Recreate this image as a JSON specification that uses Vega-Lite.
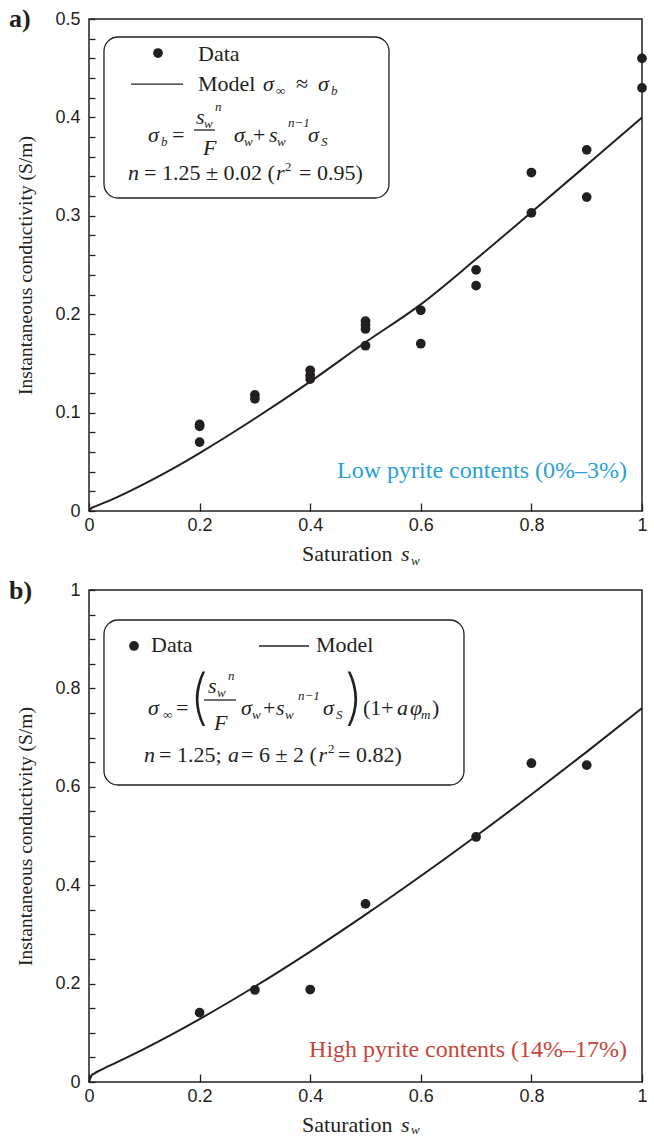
{
  "$schema": "https://vega.github.io/schema/vega-lite/v6.json",
  "background": "white",
  "padding": {"left": 8, "top": 5, "right": 0, "bottom": 0},
  "spacing": 79,
  "bounds": "flush",
  "datasets": {
    "pa": [
      {"x": 0.2, "y": 0.088}, {"x": 0.2, "y": 0.086}, {"x": 0.2, "y": 0.070},
      {"x": 0.3, "y": 0.118}, {"x": 0.3, "y": 0.114},
      {"x": 0.4, "y": 0.143}, {"x": 0.4, "y": 0.138}, {"x": 0.4, "y": 0.134},
      {"x": 0.5, "y": 0.193}, {"x": 0.5, "y": 0.189}, {"x": 0.5, "y": 0.185}, {"x": 0.5, "y": 0.168},
      {"x": 0.6, "y": 0.204}, {"x": 0.6, "y": 0.170},
      {"x": 0.7, "y": 0.245}, {"x": 0.7, "y": 0.229},
      {"x": 0.8, "y": 0.344}, {"x": 0.8, "y": 0.303},
      {"x": 0.9, "y": 0.367}, {"x": 0.9, "y": 0.319},
      {"x": 1.0, "y": 0.460}, {"x": 1.0, "y": 0.430}
    ],
    "ma": [
      {"x": 0, "y": 0}, {"x": 0.005, "y": 0.0032}, {"x": 0.01, "y": 0.0044}, {"x": 0.02, "y": 0.0067},
      {"x": 0.05, "y": 0.0139}, {"x": 0.1, "y": 0.0276}, {"x": 0.15, "y": 0.0426}, {"x": 0.2, "y": 0.0589},
      {"x": 0.3, "y": 0.0940}, {"x": 0.4, "y": 0.1315}, {"x": 0.5, "y": 0.1715}, {"x": 0.6, "y": 0.2100},
      {"x": 0.7, "y": 0.2560}, {"x": 0.8, "y": 0.3035}, {"x": 0.9, "y": 0.3516}, {"x": 1.0, "y": 0.4000}
    ],
    "pb": [
      {"x": 0.2, "y": 0.141}, {"x": 0.3, "y": 0.187}, {"x": 0.4, "y": 0.188}, {"x": 0.5, "y": 0.362},
      {"x": 0.7, "y": 0.498}, {"x": 0.8, "y": 0.648}, {"x": 0.9, "y": 0.644}
    ],
    "mb": [
      {"x": 0, "y": 0}, {"x": 0.005, "y": 0.0140}, {"x": 0.01, "y": 0.0177}, {"x": 0.02, "y": 0.0238},
      {"x": 0.05, "y": 0.0400}, {"x": 0.1, "y": 0.0675}, {"x": 0.15, "y": 0.0969}, {"x": 0.2, "y": 0.1279},
      {"x": 0.3, "y": 0.1941}, {"x": 0.4, "y": 0.2651}, {"x": 0.5, "y": 0.3401}, {"x": 0.6, "y": 0.4186},
      {"x": 0.7, "y": 0.5001}, {"x": 0.8, "y": 0.5843}, {"x": 0.9, "y": 0.6710}, {"x": 1.0, "y": 0.7600}
    ],
    "tk": [
      {"p": "a", "o": "x", "v": 0.2}, {"p": "a", "o": "x", "v": 0.4}, {"p": "a", "o": "x", "v": 0.6}, {"p": "a", "o": "x", "v": 0.8},
      {"p": "a", "o": "y", "v": 0.02}, {"p": "a", "o": "y", "v": 0.04}, {"p": "a", "o": "y", "v": 0.06}, {"p": "a", "o": "y", "v": 0.08},
      {"p": "a", "o": "y", "v": 0.10}, {"p": "a", "o": "y", "v": 0.12}, {"p": "a", "o": "y", "v": 0.14}, {"p": "a", "o": "y", "v": 0.16},
      {"p": "a", "o": "y", "v": 0.18}, {"p": "a", "o": "y", "v": 0.20}, {"p": "a", "o": "y", "v": 0.22}, {"p": "a", "o": "y", "v": 0.24},
      {"p": "a", "o": "y", "v": 0.26}, {"p": "a", "o": "y", "v": 0.28}, {"p": "a", "o": "y", "v": 0.30}, {"p": "a", "o": "y", "v": 0.32},
      {"p": "a", "o": "y", "v": 0.34}, {"p": "a", "o": "y", "v": 0.36}, {"p": "a", "o": "y", "v": 0.38}, {"p": "a", "o": "y", "v": 0.40},
      {"p": "a", "o": "y", "v": 0.42}, {"p": "a", "o": "y", "v": 0.44}, {"p": "a", "o": "y", "v": 0.46}, {"p": "a", "o": "y", "v": 0.48},
      {"p": "b", "o": "x", "v": 0.2}, {"p": "b", "o": "x", "v": 0.4}, {"p": "b", "o": "x", "v": 0.6}, {"p": "b", "o": "x", "v": 0.8},
      {"p": "b", "o": "y", "v": 0.05}, {"p": "b", "o": "y", "v": 0.10}, {"p": "b", "o": "y", "v": 0.15}, {"p": "b", "o": "y", "v": 0.20},
      {"p": "b", "o": "y", "v": 0.25}, {"p": "b", "o": "y", "v": 0.30}, {"p": "b", "o": "y", "v": 0.35}, {"p": "b", "o": "y", "v": 0.40},
      {"p": "b", "o": "y", "v": 0.45}, {"p": "b", "o": "y", "v": 0.50}, {"p": "b", "o": "y", "v": 0.55}, {"p": "b", "o": "y", "v": 0.60},
      {"p": "b", "o": "y", "v": 0.65}, {"p": "b", "o": "y", "v": 0.70}, {"p": "b", "o": "y", "v": 0.75}, {"p": "b", "o": "y", "v": 0.80},
      {"p": "b", "o": "y", "v": 0.85}, {"p": "b", "o": "y", "v": 0.90}, {"p": "b", "o": "y", "v": 0.95}
    ],
    "box": [
      {"p": "a", "x": 0.0271, "x2": 0.5425, "y": 0.4817, "y2": 0.3181},
      {"p": "b", "x": 0.0271, "x2": 0.6781, "y": 0.9390, "y2": 0.6037}
    ],
    "seg": [
      {"p": "a", "x": 0.0759, "x2": 0.1700, "y": 0.4339},
      {"p": "a", "x": 0.1899, "x2": 0.2278, "y": 0.3872},
      {"p": "b", "x": 0.3074, "x2": 0.3978, "y": 0.8862},
      {"p": "b", "x": 0.2080, "x2": 0.2658, "y": 0.7764}
    ],
    "dot": [
      {"p": "a", "x": 0.1248, "y": 0.4654},
      {"p": "b", "x": 0.0814, "y": 0.8862}
    ],
    "txt": [
      {"p": "a", "k": "up", "x": 0.1971, "y": 0.4573, "t": "Data"},
      {"p": "a", "k": "up", "x": 0.1971, "y": 0.4268, "t": "Model"},
      {"p": "a", "k": "up", "x": 0.3743, "y": 0.4268, "t": "≈"},
      {"p": "a", "k": "up", "x": 0.1501, "y": 0.3750, "t": "="},
      {"p": "a", "k": "up", "x": 0.2966, "y": 0.3750, "t": "+"},
      {"p": "a", "k": "up", "x": 0.0995, "y": 0.3364, "t": "= 1.25 ± 0.02 ("},
      {"p": "a", "k": "up", "x": 0.3797, "y": 0.3364, "t": "= 0.95)"},
      {"p": "a", "k": "up", "x": 0.3852, "y": -0.0508, "t": "Saturation"},
      {"p": "a", "k": "it", "x": 0.3146, "y": 0.4268, "t": "σ"},
      {"p": "a", "k": "it", "x": 0.4141, "y": 0.4268, "t": "σ"},
      {"p": "a", "k": "it", "x": 0.1067, "y": 0.3750, "t": "σ"},
      {"p": "a", "k": "it", "x": 0.1935, "y": 0.3933, "t": "s"},
      {"p": "a", "k": "it", "x": 0.2061, "y": 0.3618, "t": "F"},
      {"p": "a", "k": "it", "x": 0.2622, "y": 0.3750, "t": "σ"},
      {"p": "a", "k": "it", "x": 0.3255, "y": 0.3750, "t": "s"},
      {"p": "a", "k": "it", "x": 0.3960, "y": 0.3750, "t": "σ"},
      {"p": "a", "k": "it", "x": 0.0705, "y": 0.3364, "t": "n"},
      {"p": "a", "k": "it", "x": 0.3382, "y": 0.3364, "t": "r"},
      {"p": "a", "k": "it", "x": 0.5642, "y": -0.0508, "t": "s"},
      {"p": "a", "k": "subi", "x": 0.3382, "y": 0.4228, "t": "∞"},
      {"p": "a", "k": "subi", "x": 0.4376, "y": 0.4228, "t": "b"},
      {"p": "a", "k": "subi", "x": 0.1302, "y": 0.3709, "t": "b"},
      {"p": "a", "k": "subi", "x": 0.2080, "y": 0.3892, "t": "w"},
      {"p": "a", "k": "subi", "x": 0.2278, "y": 0.4065, "t": "n"},
      {"p": "a", "k": "subi", "x": 0.2803, "y": 0.3709, "t": "w"},
      {"p": "a", "k": "subi", "x": 0.3399, "y": 0.3709, "t": "w"},
      {"p": "a", "k": "subi", "x": 0.3599, "y": 0.3902, "t": "n−1"},
      {"p": "a", "k": "subi", "x": 0.4195, "y": 0.3709, "t": "S"},
      {"p": "a", "k": "subi", "x": 0.5823, "y": -0.0549, "t": "w"},
      {"p": "a", "k": "subu", "x": 0.3544, "y": 0.3455, "t": "2"},
      {"p": "a", "k": "lab", "x": -0.1447, "y": 0.4919, "t": "a)"},
      {"p": "a", "k": "note", "x": 0.9729, "y": 0.0335, "t": "Low pyrite contents (0%–3%)"},
      {"p": "b", "k": "up", "x": 0.1121, "y": 0.8740, "t": "Data"},
      {"p": "b", "k": "up", "x": 0.4105, "y": 0.8740, "t": "Model"},
      {"p": "b", "k": "up", "x": 0.1573, "y": 0.7459, "t": "="},
      {"p": "b", "k": "up", "x": 0.3146, "y": 0.7459, "t": "+"},
      {"p": "b", "k": "up", "x": 0.4955, "y": 0.7459, "t": "(1+"},
      {"p": "b", "k": "up", "x": 0.6203, "y": 0.7459, "t": ")"},
      {"p": "b", "k": "up", "x": 0.1266, "y": 0.6504, "t": "= 1.25;"},
      {"p": "b", "k": "up", "x": 0.2749, "y": 0.6504, "t": "= 6 ± 2 ("},
      {"p": "b", "k": "up", "x": 0.4503, "y": 0.6504, "t": "= 0.82)"},
      {"p": "b", "k": "up", "x": 0.3852, "y": -0.1016, "t": "Saturation"},
      {"p": "b", "k": "it", "x": 0.1067, "y": 0.7459, "t": "σ"},
      {"p": "b", "k": "it", "x": 0.2152, "y": 0.7907, "t": "s"},
      {"p": "b", "k": "it", "x": 0.2260, "y": 0.7154, "t": "F"},
      {"p": "b", "k": "it", "x": 0.2749, "y": 0.7459, "t": "σ"},
      {"p": "b", "k": "it", "x": 0.3382, "y": 0.7459, "t": "s"},
      {"p": "b", "k": "it", "x": 0.4231, "y": 0.7459, "t": "σ"},
      {"p": "b", "k": "it", "x": 0.5570, "y": 0.7459, "t": "a"},
      {"p": "b", "k": "it", "x": 0.5805, "y": 0.7459, "t": "φ"},
      {"p": "b", "k": "it", "x": 0.0995, "y": 0.6504, "t": "n"},
      {"p": "b", "k": "it", "x": 0.2514, "y": 0.6504, "t": "a"},
      {"p": "b", "k": "it", "x": 0.4150, "y": 0.6504, "t": "r"},
      {"p": "b", "k": "it", "x": 0.5642, "y": -0.1016, "t": "s"},
      {"p": "b", "k": "subi", "x": 0.1338, "y": 0.7378, "t": "∞"},
      {"p": "b", "k": "subi", "x": 0.2315, "y": 0.7825, "t": "w"},
      {"p": "b", "k": "subi", "x": 0.2514, "y": 0.8171, "t": "n"},
      {"p": "b", "k": "subi", "x": 0.2948, "y": 0.7378, "t": "w"},
      {"p": "b", "k": "subi", "x": 0.3544, "y": 0.7378, "t": "w"},
      {"p": "b", "k": "subi", "x": 0.3779, "y": 0.7764, "t": "n−1"},
      {"p": "b", "k": "subi", "x": 0.4467, "y": 0.7378, "t": "S"},
      {"p": "b", "k": "subi", "x": 0.6004, "y": 0.7378, "t": "m"},
      {"p": "b", "k": "subi", "x": 0.5823, "y": -0.1057, "t": "w"},
      {"p": "b", "k": "subu", "x": 0.4322, "y": 0.6687, "t": "2"},
      {"p": "b", "k": "par", "x": 0.1808, "y": 0.7398, "t": "("},
      {"p": "b", "k": "par", "x": 0.4611, "y": 0.7398, "t": ")"},
      {"p": "b", "k": "lab", "x": -0.1447, "y": 0.9817, "t": "b)"},
      {"p": "b", "k": "note", "x": 0.9729, "y": 0.0508, "t": "High pyrite contents (14%–17%)"}
    ]
  },
  "config": {
    "view": {"stroke": "#231f20", "strokeWidth": 1.5},
    "axis": {
      "domain": false, "grid": false,
      "labelFont": "Liberation Sans", "labelFontSize": 18, "labelColor": "#231f20",
      "titleFont": "Liberation Serif", "titleFontSize": 19.5, "titleFontWeight": "normal", "titleColor": "#231f20",
      "tickColor": "#231f20", "tickWidth": 1.3,
      "labelFlush": false, "labelOverlap": false
    }
  },
  "vconcat": [
    {
      "width": 553, "height": 492,
      "encoding": {
        "x": {"field": "x", "type": "quantitative", "scale": {"domain": [0, 1], "nice": false, "zero": false}, "axis": null},
        "y": {"field": "y", "type": "quantitative", "scale": {"domain": [0, 0.5], "nice": false, "zero": false}, "axis": null}
      },
      "resolve": {"axis": {"x": "independent", "y": "independent"}},
      "layer": [
        {
          "data": {"name": "ma"},
          "mark": {"type": "line", "color": "#231f20", "strokeWidth": 2, "interpolate": "monotone"},
          "encoding": {
            "x": {"field": "x", "type": "quantitative", "scale": {"domain": [0, 1], "nice": false, "zero": false},
              "axis": {"orient": "bottom", "values": [0, 0.2, 0.4, 0.6, 0.8, 1], "format": ".1~f", "offset": -8, "tickSize": 8, "labelPadding": 5, "title": null}},
            "y": {"field": "y", "type": "quantitative", "scale": {"domain": [0, 0.5], "nice": false, "zero": false},
              "axis": {"orient": "left", "offset": -6, "tickSize": 6, "labelPadding": 9, "title": "Instantaneous conductivity (S/m)", "titlePadding": 19,
                "values": [0, 0.02, 0.04, 0.06, 0.08, 0.1, 0.12, 0.14, 0.16, 0.18, 0.2, 0.22, 0.24, 0.26, 0.28, 0.3, 0.32, 0.34, 0.36, 0.38, 0.4, 0.42, 0.44, 0.46, 0.48, 0.5],
                "labelExpr": "abs(datum.value*10-round(datum.value*10))<1e-6 ? format(datum.value,'.1~f') : ''"}}
          }
        },
        {
          "data": {"name": "tk"}, "transform": [{"filter": "datum.p=='a' && datum.o=='x'"}],
          "mark": {"type": "rule", "color": "#231f20", "strokeWidth": 1.3},
          "encoding": {"x": {"field": "v", "type": "quantitative", "axis": null}, "y": {"datum": 0, "axis": null}, "y2": {"datum": 0.00813}}
        },
        {
          "data": {"name": "tk"}, "transform": [{"filter": "datum.p=='a' && datum.o=='x'"}],
          "mark": {"type": "rule", "color": "#231f20", "strokeWidth": 1.3},
          "encoding": {"x": {"field": "v", "type": "quantitative", "axis": null}, "y": {"datum": 0.5, "axis": null}, "y2": {"datum": 0.49187}}
        },
        {
          "data": {"name": "tk"}, "transform": [{"filter": "datum.p=='a' && datum.o=='y'"}],
          "mark": {"type": "rule", "color": "#231f20", "strokeWidth": 1.3},
          "encoding": {"x": {"datum": 0, "axis": null}, "x2": {"datum": 0.01085}, "y": {"field": "v", "type": "quantitative", "axis": null}}
        },
        {
          "data": {"name": "tk"}, "transform": [{"filter": "datum.p=='a' && datum.o=='y'"}],
          "mark": {"type": "rule", "color": "#231f20", "strokeWidth": 1.3},
          "encoding": {"x": {"datum": 1, "axis": null}, "x2": {"datum": 0.98915}, "y": {"field": "v", "type": "quantitative", "axis": null}}
        },
        {
          "data": {"name": "pa"},
          "mark": {"type": "point", "filled": true, "size": 95, "color": "#231f20", "opacity": 1}
        },
        {
          "data": {"name": "box"}, "transform": [{"filter": "datum.p=='a'"}],
          "mark": {"type": "rect", "fill": "white", "stroke": "#231f20", "strokeWidth": 1.3, "cornerRadius": 14},
          "encoding": {"x2": {"field": "x2"}, "y2": {"field": "y2"}}
        },
        {
          "data": {"name": "seg"}, "transform": [{"filter": "datum.p=='a'"}],
          "mark": {"type": "rule", "color": "#231f20", "strokeWidth": 1.3},
          "encoding": {"x2": {"field": "x2"}}
        },
        {
          "data": {"name": "dot"}, "transform": [{"filter": "datum.p=='a'"}],
          "mark": {"type": "point", "filled": true, "size": 95, "color": "#231f20", "opacity": 1}
        },
        {
          "data": {"name": "txt"}, "transform": [{"filter": "datum.p=='a' && datum.k=='up'"}],
          "mark": {"type": "text", "font": "Liberation Serif", "fontSize": 22, "align": "left", "baseline": "alphabetic", "color": "#231f20"},
          "encoding": {"text": {"field": "t"}}
        },
        {
          "data": {"name": "txt"}, "transform": [{"filter": "datum.p=='a' && datum.k=='it'"}],
          "mark": {"type": "text", "font": "Liberation Serif", "fontSize": 22, "fontStyle": "italic", "align": "left", "baseline": "alphabetic", "color": "#231f20"},
          "encoding": {"text": {"field": "t"}}
        },
        {
          "data": {"name": "txt"}, "transform": [{"filter": "datum.p=='a' && datum.k=='subi'"}],
          "mark": {"type": "text", "font": "Liberation Serif", "fontSize": 13, "fontStyle": "italic", "align": "left", "baseline": "alphabetic", "color": "#231f20"},
          "encoding": {"text": {"field": "t"}}
        },
        {
          "data": {"name": "txt"}, "transform": [{"filter": "datum.p=='a' && datum.k=='subu'"}],
          "mark": {"type": "text", "font": "Liberation Serif", "fontSize": 13, "align": "left", "baseline": "alphabetic", "color": "#231f20"},
          "encoding": {"text": {"field": "t"}}
        },
        {
          "data": {"name": "txt"}, "transform": [{"filter": "datum.p=='a' && datum.k=='lab'"}],
          "mark": {"type": "text", "font": "Liberation Serif", "fontSize": 26, "fontWeight": "bold", "align": "left", "baseline": "alphabetic", "color": "#231f20"},
          "encoding": {"text": {"field": "t"}}
        },
        {
          "data": {"name": "txt"}, "transform": [{"filter": "datum.p=='a' && datum.k=='note'"}],
          "mark": {"type": "text", "font": "Liberation Serif", "fontSize": 24, "align": "right", "baseline": "alphabetic", "color": "#2a9fd8"},
          "encoding": {"text": {"field": "t"}}
        }
      ]
    },
    {
      "width": 553, "height": 492,
      "encoding": {
        "x": {"field": "x", "type": "quantitative", "scale": {"domain": [0, 1], "nice": false, "zero": false}, "axis": null},
        "y": {"field": "y", "type": "quantitative", "scale": {"domain": [0, 1], "nice": false, "zero": false}, "axis": null}
      },
      "resolve": {"axis": {"x": "independent", "y": "independent"}},
      "layer": [
        {
          "data": {"name": "mb"},
          "mark": {"type": "line", "color": "#231f20", "strokeWidth": 2, "interpolate": "monotone"},
          "encoding": {
            "x": {"field": "x", "type": "quantitative", "scale": {"domain": [0, 1], "nice": false, "zero": false},
              "axis": {"orient": "bottom", "values": [0, 0.2, 0.4, 0.6, 0.8, 1], "format": ".1~f", "offset": -8, "tickSize": 8, "labelPadding": 5, "title": null}},
            "y": {"field": "y", "type": "quantitative", "scale": {"domain": [0, 1], "nice": false, "zero": false},
              "axis": {"orient": "left", "offset": -6, "tickSize": 6, "labelPadding": 9, "title": "Instantaneous conductivity (S/m)", "titlePadding": 19,
                "values": [0, 0.05, 0.1, 0.15, 0.2, 0.25, 0.3, 0.35, 0.4, 0.45, 0.5, 0.55, 0.6, 0.65, 0.7, 0.75, 0.8, 0.85, 0.9, 0.95, 1],
                "labelExpr": "abs(datum.value*5-round(datum.value*5))<1e-6 ? format(datum.value,'.1~f') : ''"}}
          }
        },
        {
          "data": {"name": "tk"}, "transform": [{"filter": "datum.p=='b' && datum.o=='x'"}],
          "mark": {"type": "rule", "color": "#231f20", "strokeWidth": 1.3},
          "encoding": {"x": {"field": "v", "type": "quantitative", "axis": null}, "y": {"datum": 0, "axis": null}, "y2": {"datum": 0.01626}}
        },
        {
          "data": {"name": "tk"}, "transform": [{"filter": "datum.p=='b' && datum.o=='x'"}],
          "mark": {"type": "rule", "color": "#231f20", "strokeWidth": 1.3},
          "encoding": {"x": {"field": "v", "type": "quantitative", "axis": null}, "y": {"datum": 1, "axis": null}, "y2": {"datum": 0.98374}}
        },
        {
          "data": {"name": "tk"}, "transform": [{"filter": "datum.p=='b' && datum.o=='y'"}],
          "mark": {"type": "rule", "color": "#231f20", "strokeWidth": 1.3},
          "encoding": {"x": {"datum": 0, "axis": null}, "x2": {"datum": 0.01085}, "y": {"field": "v", "type": "quantitative", "axis": null}}
        },
        {
          "data": {"name": "tk"}, "transform": [{"filter": "datum.p=='b' && datum.o=='y'"}],
          "mark": {"type": "rule", "color": "#231f20", "strokeWidth": 1.3},
          "encoding": {"x": {"datum": 1, "axis": null}, "x2": {"datum": 0.98915}, "y": {"field": "v", "type": "quantitative", "axis": null}}
        },
        {
          "data": {"name": "pb"},
          "mark": {"type": "point", "filled": true, "size": 95, "color": "#231f20", "opacity": 1}
        },
        {
          "data": {"name": "box"}, "transform": [{"filter": "datum.p=='b'"}],
          "mark": {"type": "rect", "fill": "white", "stroke": "#231f20", "strokeWidth": 1.3, "cornerRadius": 14},
          "encoding": {"x2": {"field": "x2"}, "y2": {"field": "y2"}}
        },
        {
          "data": {"name": "seg"}, "transform": [{"filter": "datum.p=='b'"}],
          "mark": {"type": "rule", "color": "#231f20", "strokeWidth": 1.3},
          "encoding": {"x2": {"field": "x2"}}
        },
        {
          "data": {"name": "dot"}, "transform": [{"filter": "datum.p=='b'"}],
          "mark": {"type": "point", "filled": true, "size": 95, "color": "#231f20", "opacity": 1}
        },
        {
          "data": {"name": "txt"}, "transform": [{"filter": "datum.p=='b' && datum.k=='up'"}],
          "mark": {"type": "text", "font": "Liberation Serif", "fontSize": 22, "align": "left", "baseline": "alphabetic", "color": "#231f20"},
          "encoding": {"text": {"field": "t"}}
        },
        {
          "data": {"name": "txt"}, "transform": [{"filter": "datum.p=='b' && datum.k=='it'"}],
          "mark": {"type": "text", "font": "Liberation Serif", "fontSize": 22, "fontStyle": "italic", "align": "left", "baseline": "alphabetic", "color": "#231f20"},
          "encoding": {"text": {"field": "t"}}
        },
        {
          "data": {"name": "txt"}, "transform": [{"filter": "datum.p=='b' && datum.k=='subi'"}],
          "mark": {"type": "text", "font": "Liberation Serif", "fontSize": 13, "fontStyle": "italic", "align": "left", "baseline": "alphabetic", "color": "#231f20"},
          "encoding": {"text": {"field": "t"}}
        },
        {
          "data": {"name": "txt"}, "transform": [{"filter": "datum.p=='b' && datum.k=='subu'"}],
          "mark": {"type": "text", "font": "Liberation Serif", "fontSize": 13, "align": "left", "baseline": "alphabetic", "color": "#231f20"},
          "encoding": {"text": {"field": "t"}}
        },
        {
          "data": {"name": "txt"}, "transform": [{"filter": "datum.p=='b' && datum.k=='par'"}],
          "mark": {"type": "text", "font": "Inter", "fontSize": 60, "fontWeight": 200, "align": "left", "baseline": "alphabetic", "color": "#231f20"},
          "encoding": {"text": {"field": "t"}}
        },
        {
          "data": {"name": "txt"}, "transform": [{"filter": "datum.p=='b' && datum.k=='lab'"}],
          "mark": {"type": "text", "font": "Liberation Serif", "fontSize": 26, "fontWeight": "bold", "align": "left", "baseline": "alphabetic", "color": "#231f20"},
          "encoding": {"text": {"field": "t"}}
        },
        {
          "data": {"name": "txt"}, "transform": [{"filter": "datum.p=='b' && datum.k=='note'"}],
          "mark": {"type": "text", "font": "Liberation Serif", "fontSize": 24, "align": "right", "baseline": "alphabetic", "color": "#c8453b"},
          "encoding": {"text": {"field": "t"}}
        }
      ]
    }
  ]
}
